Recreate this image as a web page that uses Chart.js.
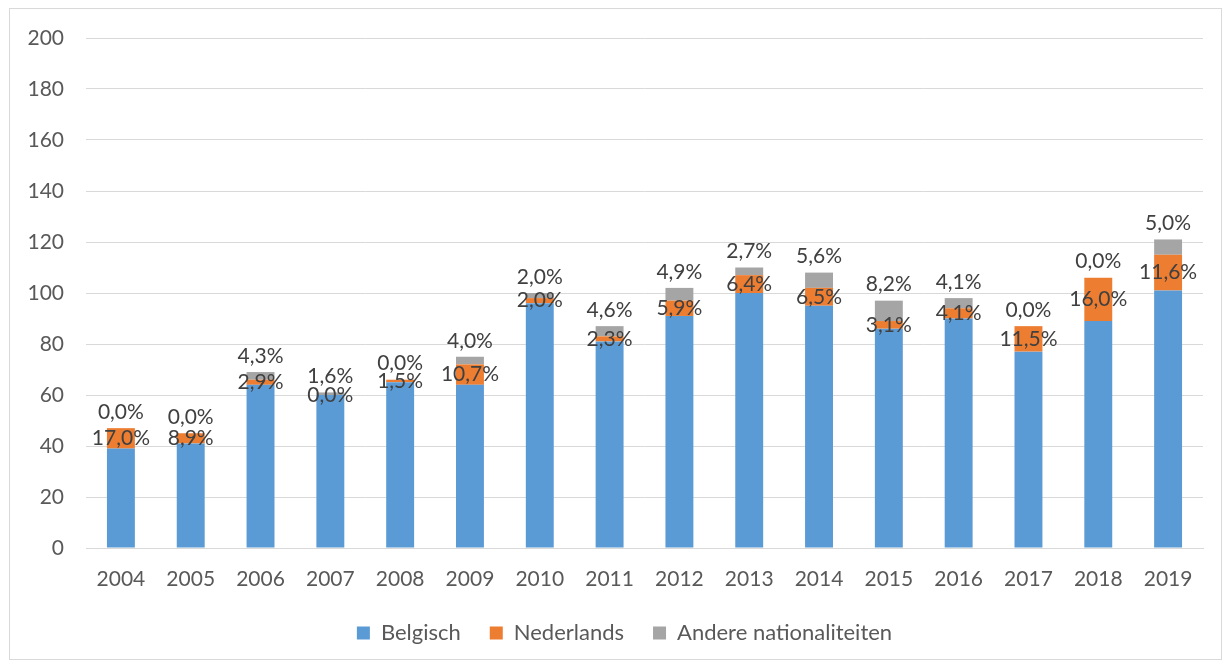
<!DOCTYPE html>
<html>
<head>
<meta charset="utf-8">
<script src="https://cdn.jsdelivr.net/npm/chart.js@4.4.1/dist/chart.umd.min.js"></script>
<style>
  html, body { margin: 0; padding: 0; background: #fff; }
  #frame {
    position: absolute; left: 9px; top: 8px;
    width: 1213px; height: 652px;
    border: 1px solid #d9d9d9; box-sizing: border-box;
  }
</style>
</head>
<body>
<div id="frame"><canvas id="myChart" width="1211" height="650"></canvas></div>
<script>
var years = ["2004", "2005", "2006", "2007", "2008", "2009", "2010", "2011",
  "2012", "2013", "2014", "2015", "2016", "2017", "2018", "2019"];
var belgisch   = [39, 41, 64, 60, 65, 64, 96, 81, 91, 100, 95, 86, 90, 77, 89, 101];
var nederlands = [ 8,  4,  2,  0,  1,  8,  2,  2,  6,   7,  7,  3,  4, 10, 17,  14];
var andere     = [ 0,  0,  3,  1,  0,  3,  2,  4,  5,   3,  6,  8,  4,  0,  0,   6];
var yTicks = [0, 20, 40, 60, 80, 100, 120, 140, 160, 180, 200];

var family = "Lato, 'Open Sans', sans-serif";
var tickFont = { family: family, size: 21 };
var legendFont = { family: family, size: 22 };

function pct(v, i) {
  var total = belgisch[i] + nederlands[i] + andere[i];
  return (v / total * 100).toFixed(1).replace(".", ",") + "%";
}

// labels for the Nederlands and Andere segments, as share of the total
var shareLabels = {
  id: "shareLabels",
  afterLayout: function (chart) {
    // Excel puts the legend a little right of centre
    chart.legend.left += 18;
    chart.legend.right += 18;
  },
  afterDatasetsDraw: function (chart) {
    var ctx = chart.ctx;
    var ned = chart.getDatasetMeta(1).data;
    var and = chart.getDatasetMeta(2).data;
    ctx.save();
    ctx.font = "21px " + family;
    ctx.fillStyle = "#404040";
    ctx.textAlign = "center";
    ctx.textBaseline = "middle";
    for (var i = 0; i < years.length; i++) {
      var b = ned[i];
      ctx.fillText(pct(nederlands[i], i), b.x, (b.y + b.base) / 2);
      var g = and[i];
      ctx.fillText(pct(andere[i], i), g.x, g.y - 16);
    }
    ctx.restore();
  }
};

var ctx = document.getElementById("myChart").getContext("2d");
var myChart = new Chart(ctx, {
  type: "bar",
  data: {
    labels: years,
    datasets: [
      { label: "Belgisch", data: belgisch, backgroundColor: "#5B9BD5" },
      { label: "Nederlands", data: nederlands, backgroundColor: "#ED7D31" },
      { label: "Andere nationaliteiten", data: andere, backgroundColor: "#A5A5A5" },
    ],
  },
  options: {
    responsive: false,
    animation: false,
    categoryPercentage: 0.4,
    barPercentage: 1.0,
    layout: { padding: { top: 29, right: 18, bottom: 6, left: 0 } },
    plugins: {
      tooltip: { enabled: false },
      legend: {
        position: "bottom",
        maxHeight: 60,
        labels: {
          font: legendFont,
          color: "#595959",
          boxWidth: 13,
          boxHeight: 13,
          padding: 29,
        },
      },
    },
    scales: {
      x: {
        stacked: true,
        afterFit: function (scale) { scale.height = 45; },
        grid: { display: false, drawTicks: false },
        border: { color: "#d9d9d9", width: 1 },
        ticks: { font: tickFont, color: "#595959", padding: 19, maxRotation: 0 },
      },
      y: {
        stacked: true,
        min: 0,
        max: 200,
        afterBuildTicks: function (scale) {
          scale.ticks = yTicks.map(function (v) { return { value: v }; });
        },
        afterFit: function (scale) {
          scale.width = 76;
          scale.paddingTop = 0;
          scale.paddingBottom = 0;
        },
        grid: { color: "#d9d9d9", lineWidth: 1, drawTicks: false },
        border: { display: false },
        ticks: { font: tickFont, color: "#595959", padding: 22 },
      },
    },
  },
  plugins: [shareLabels],
});
</script>
</body>
</html>
